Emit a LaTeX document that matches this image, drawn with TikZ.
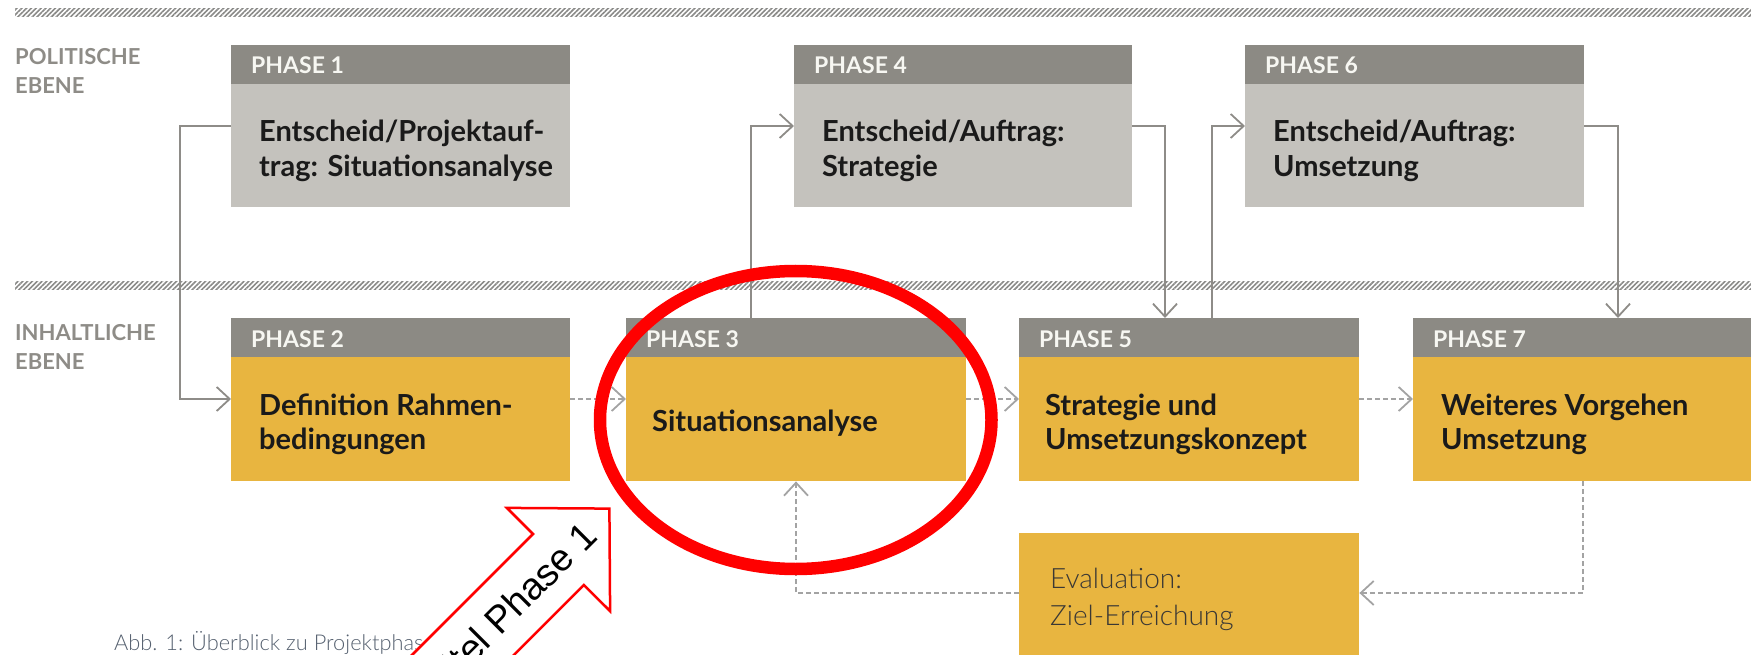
\documentclass[tikz,border=0pt]{standalone}
\usepackage{fontspec}
\setmainfont{Lato}
\newfontfamily\lightfont{Lato Light}
\newfontfamily\arialfont{Liberation Sans}
\usetikzlibrary{arrows.meta,patterns.meta,shapes.geometric}

\definecolor{hdrgray}{HTML}{8C8A84}
\definecolor{polgray}{HTML}{C4C2BD}
\definecolor{ochre}{HTML}{E8B540}
\definecolor{linegray}{HTML}{8E8C88}
\definecolor{dashgray}{HTML}{A3A3A3}
\definecolor{labelgray}{HTML}{8E8C87}
\definecolor{hatchgray}{HTML}{8A8A88}
\definecolor{captionblue}{HTML}{55606F}
\definecolor{hdrtext}{HTML}{F7F7F2}
\definecolor{boxtext}{HTML}{1A1A1A}
\definecolor{evtext}{HTML}{3A3835}

\begin{document}
\begin{tikzpicture}[x=1pt,y=-1pt,
  hdr/.style={fill=hdrgray, minimum height=39pt, anchor=north west, inner sep=0pt},
  polbody/.style={fill=polgray, minimum height=123pt, anchor=north west, inner sep=0pt},
  conbody/.style={fill=ochre, minimum height=124pt, anchor=north west, inner sep=0pt},
  hdrlabel/.style={anchor=base west, inner sep=0pt, text=hdrtext,
    font=\fontsize{23}{27}\selectfont\bfseries},
  boxlabel/.style={anchor=base west, inner sep=0pt, text=boxtext,
    font=\fontsize{29}{34.5}\selectfont\bfseries},
  levellabel/.style={anchor=base west, inner sep=0pt, text=labelgray,
    font=\fontsize{22}{29}\selectfont\bfseries},
  conn/.style={draw=linegray, line width=1.8pt,
    -{Straight Barb[length=13pt,width=24pt]}},
  dconn/.style={draw=dashgray, line width=1.8pt, dash pattern=on 5pt off 3pt,
    -{Straight Barb[length=13pt,width=24pt]}},
  band/.style={pattern={Lines[angle=45,distance=3.4pt,line width=1.6pt]},
    pattern color=hatchgray}
]
\useasboundingbox (0,0) rectangle (1751,655);
\clip (0,0) rectangle (1751,655);

% hatched level separators
\fill[band] (15,9) rectangle (1751,17);
\fill[band] (15,281) rectangle (1751,289);

% level names
\node[levellabel] (polit) at (15,65) {\parbox[t]{200pt}{POLITISCHE\\EBENE}};
\node[levellabel] (inhalt) at (15,340) {\parbox[t]{200pt}{INHALTLICHE\\EBENE}};

% political level: phases 1, 4, 6
\node[hdr, minimum width=339pt] (h1) at (231,45) {};
\node[polbody, minimum width=339pt] (b1) at (231,84) {};
\node[hdr, minimum width=338pt] (h4) at (794,45) {};
\node[polbody, minimum width=338pt] (b4) at (794,84) {};
\node[hdr, minimum width=339pt] (h6) at (1245,45) {};
\node[polbody, minimum width=339pt] (b6) at (1245,84) {};

% content level: phases 2, 3, 5, 7 and evaluation
\node[hdr, minimum width=339pt] (h2) at (231,318) {};
\node[conbody, minimum width=339pt] (b2) at (231,357) {};
\node[hdr, minimum width=340pt] (h3) at (626,318) {};
\node[conbody, minimum width=340pt] (b3) at (626,357) {};
\node[hdr, minimum width=340pt] (h5) at (1019,318) {};
\node[conbody, minimum width=340pt] (b5) at (1019,357) {};
\node[hdr, minimum width=345pt] (h7) at (1413,318) {};
\node[conbody, minimum width=345pt] (b7) at (1413,357) {};
\node[fill=ochre, minimum width=340pt, minimum height=140pt, anchor=north west, inner sep=0pt] (ev) at (1019,533) {};

% header captions
\node[hdrlabel] (l1) at (251,74) {PHASE 1};
\node[hdrlabel] (l4) at (814,74) {PHASE 4};
\node[hdrlabel] (l6) at (1265,74) {PHASE 6};
\node[hdrlabel] (l2) at (251,347) {PHASE 2};
\node[hdrlabel] (l3) at (646,347) {PHASE 3};
\node[hdrlabel] (l5) at (1039,347) {PHASE 5};
\node[hdrlabel] (l7) at (1433,347) {PHASE 7};

% box contents
\node[boxlabel] (t1) at (259,142) {\parbox[t]{300pt}{Entscheid/Projektauf-\\trag: Situationsanalyse}};
\node[boxlabel] (t4) at (822,142) {\parbox[t]{300pt}{Entscheid/Auftrag:\\Strategie}};
\node[boxlabel] (t6) at (1273,142) {\parbox[t]{300pt}{Entscheid/Auftrag:\\Umsetzung}};
\node[boxlabel] (t2) at (259,415) {\parbox[t]{300pt}{Definition Rahmen-\\bedingungen}};
\node[boxlabel] (t3) at (652,431.5) {Situationsanalyse};
\node[boxlabel] (t5) at (1045,415) {\parbox[t]{300pt}{Strategie und\\Umsetzungskonzept}};
\node[boxlabel] (t7) at (1441,415) {\parbox[t]{300pt}{Weiteres Vorgehen\\Umsetzung}};
\node[anchor=base west, inner sep=0pt, text=evtext,
  font=\fontsize{28}{37}\selectfont\lightfont] (tev) at (1050,588)
  {\parbox[t]{300pt}{Evaluation:\\Ziel-Erreichung}};

% decisions between the levels
\draw[conn] ([yshift=-42pt]b1.north west) -- ++(-51,0) |- ([yshift=-42pt]b2.north west);
\draw[conn] ([xshift=125pt]h3.north west) |- ([yshift=-42pt]b4.north west);
\draw[conn] ([yshift=-42pt]b4.north east) -| ([xshift=146pt]h5.north west);
\draw[conn] ([xshift=193pt]h5.north west) |- ([yshift=-42pt]b6.north west);
\draw[conn] ([yshift=-42pt]b6.north east) -| ([xshift=205pt]h7.north west);

% sequence of the content phases
\draw[dconn] ([yshift=-42pt]b2.north east) -- ([yshift=-42pt]b3.north west);
\draw[dconn] ([yshift=-42pt]b3.north east) -- ([yshift=-42pt]b5.north west);
\draw[dconn] ([yshift=-42pt]b5.north east) -- ([yshift=-42pt]b7.north west);
\draw[dconn] ([xshift=170pt]b7.south west) |- ([yshift=-60pt]ev.north east);
\draw[dconn] ([yshift=-60pt]ev.north west) -| ([xshift=170pt]b3.south west);

% highlight around phase 3
\node[ellipse, draw=red, line width=12.5pt, minimum width=391.5pt,
  minimum height=298pt, inner sep=0pt] (mark) at (795.75,420) {};

% figure caption
\node[anchor=base west, inner sep=0pt, text=captionblue,
  font=\fontsize{21.8}{26}\selectfont\lightfont] (cap) at (114,650)
  {Abb. 1: Überblick zu Projektphasen};

% block arrow pointing at phase 3
\draw[draw=red, fill=white, line width=2.5pt, line join=miter]
  (609.4,508.6) -- (610.1,611.1) -- (583.9,585) -- (371.9,797.1)
  -- (320.9,746.1) -- (533.0,534.0) -- (506.9,507.9) -- cycle;
\node[rotate=45, inner sep=0pt, font=\arialfont\fontsize{38}{45}\selectfont]
  (arrowtext) at (511.5,606.5) {Titel Phase 1};
\end{tikzpicture}
\end{document}
